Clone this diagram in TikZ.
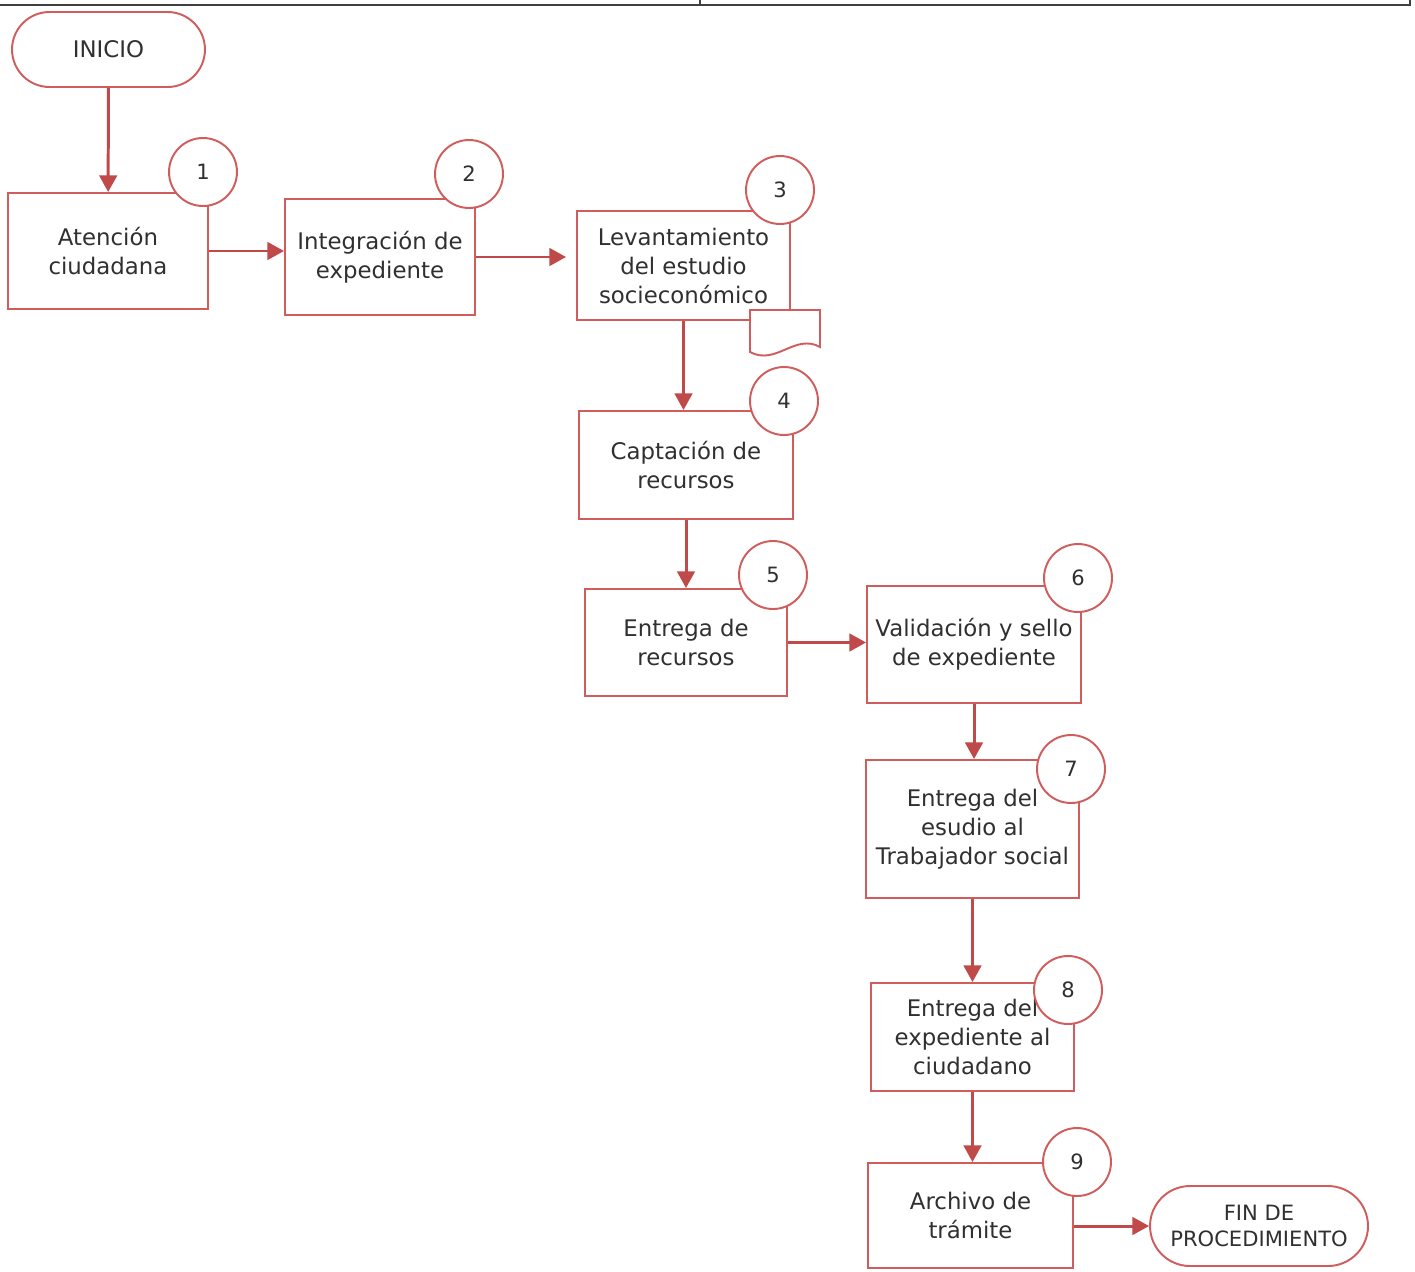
\documentclass[tikz,border=0pt]{standalone}
\usepackage{fontspec}
\setmainfont{DejaVu Sans}
\usetikzlibrary{arrows.meta}
\definecolor{flowred}{RGB}{208,92,92}
\definecolor{arrowred}{RGB}{192,74,74}
\definecolor{textgray}{RGB}{48,48,48}
\tikzset{
  stepbox/.style={draw=flowred, line width=1.1pt, fill=white, align=center, text=textgray,
    font=\fontsize{13}{16.5}\selectfont, inner sep=1pt},
  numcirc/.style={circle, draw=flowred, line width=1.1pt, fill=white, minimum size=1.36cm,
    inner sep=0pt, text=textgray, font=\fontsize{12}{14}\selectfont},
  terminal/.style={draw=flowred, line width=1.1pt, fill=white, align=center, text=textgray},
  flow/.style={draw=arrowred, line width=1.7pt, -{Triangle[length=9.5pt,width=10pt]}},
}
\begin{document}
\begin{tikzpicture}[x=0.02cm,y=-0.02cm]
    \useasboundingbox (0,0) rectangle (1415,1271);
    % table border above
    \draw[line width=0.9pt, black!75] (0,5) -- (1410,5) -- (1410,0);
    \draw[line width=0.9pt, black!75] (700,0) -- (700,5);
    % terminals
    \node[terminal, minimum width=3.86cm, minimum height=1.5cm, rounded corners=0.75cm,
      font=\fontsize{13}{16}\selectfont] (inicio) at (108.5,49.5) {INICIO};
    \node[terminal, minimum width=4.36cm, minimum height=1.6cm, rounded corners=0.8cm,
      font=\fontsize{12}{15}\selectfont] (fin) at (1259,1226) {FIN DE\\PROCEDIMIENTO};
    % steps
    \node[stepbox, minimum width=4cm, minimum height=2.32cm] (b1) at (108,251) {Atención\\ciudadana};
    \node[stepbox, minimum width=3.8cm, minimum height=2.32cm] (b2) at (380,257) {Integración de\\expediente};
    \node[stepbox, minimum width=4.26cm, minimum height=2.18cm] (b3) at (683.5,265.5) {Levantamiento\\del estudio\\socieconómico};
    \node[stepbox, minimum width=4.28cm, minimum height=2.16cm] (b4) at (686,465) {Captación de\\recursos};
    \node[stepbox, minimum width=4.04cm, minimum height=2.14cm] (b5) at (686,642.5) {Entrega de\\recursos};
    \node[stepbox, minimum width=4.28cm, minimum height=2.34cm] (b6) at (974,644.5) {Validación y sello\\de expediente};
    \node[stepbox, minimum width=4.26cm, minimum height=2.76cm] (b7) at (972.5,829) {Entrega del\\esudio al\\Trabajador social};
    \node[stepbox, minimum width=4.06cm, minimum height=2.16cm] (b8) at (972.5,1037) {Entrega del\\expediente al\\ciudadano};
    \node[stepbox, minimum width=4.1cm, minimum height=2.1cm] (b9) at (970.5,1215.5) {Archivo de\\trámite};
    % document mark on step 3
    \draw[flowred, line width=1.1pt, fill=white] (750,310) -- (820,310) -- (820,347)
      .. controls (795,333) and (776,366) .. (750,352) -- cycle;
    % numbers
    \node[numcirc] (n1) at (203,172) {1};
    \node[numcirc] (n2) at (469,174) {2};
    \node[numcirc] (n3) at (780,190) {3};
    \node[numcirc] (n4) at (784,401) {4};
    \node[numcirc] (n5) at (773,575) {5};
    \node[numcirc] (n6) at (1078,578) {6};
    \node[numcirc] (n7) at (1071,769) {7};
    \node[numcirc] (n8) at (1068,990) {8};
    \node[numcirc] (n9) at (1077,1162) {9};
    % connectors
    \draw[flow] (inicio) -- (b1);
    \draw[flow] (b1.east) -- (b1.east -| b2.west);
    \draw[flow] (b2.east) -- ([xshift=-0.2cm]b2.east -| b3.west);
    \draw[flow] (b3.south) -- (b3.south |- b4.north);
    \draw[flow] (b4.south) -- (b4.south |- b5.north);
    \draw[flow] (b5.east) -- (b5.east -| b6.west);
    \draw[flow] (b6.south) -- (b6.south |- b7.north);
    \draw[flow] (b7.south) -- (b7.south |- b8.north);
    \draw[flow] (b8.south) -- (b8.south |- b9.north);
    \draw[flow] (b9.east |- fin.west) -- (fin.west);
\end{tikzpicture}
\end{document}
